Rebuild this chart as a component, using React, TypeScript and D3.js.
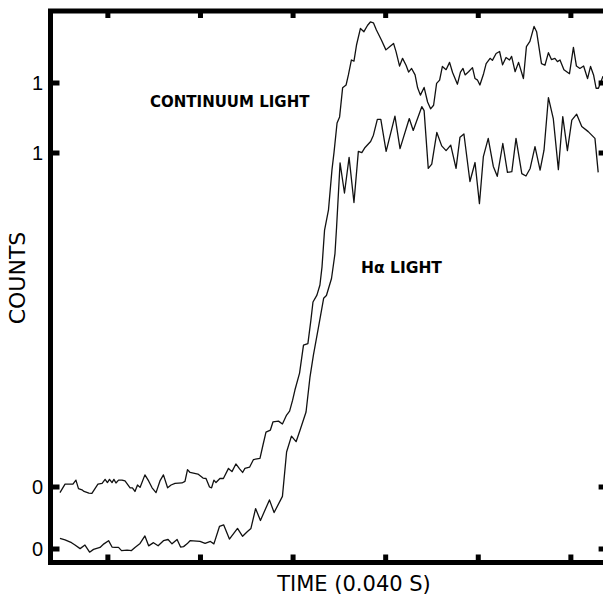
import React, { useEffect, useRef } from 'react';
import * as d3 from 'd3';

// time in ms (0.040 s between ticks), counts in % of the plateau level
const contTime = [4.3, 6.5, 9.9, 11.2, 12.3, 13.8, 14.7, 16.8, 18.1, 20.7, 22.5, 23.8, 24.8, 25.7, 26.8, 27.6, 28.5, 29.6, 31.1, 32.4, 34.6, 35.6, 36.7, 37.8, 38.9, 41.0, 42.6, 44.1, 45.8, 47.5, 49.0, 50.8, 52.3, 54.0, 57.0, 58.3, 59.4, 60.5, 63.9, 66.1, 67.4, 68.9, 69.8, 70.8, 71.7, 73.4, 74.9, 77.1, 78.6, 80.3, 81.9, 83.2, 84.2, 86.2, 87.9, 90.7, 92.0, 93.3, 95.2, 96.3, 98.7, 100.4, 102.2, 103.5, 104.8, 105.8, 107.8, 109.5, 111.4, 112.7, 113.6, 115.3, 116.6, 117.5, 118.6, 120.3, 121.8, 122.7, 124.0, 125.1, 126.4, 127.9, 128.9, 130.2, 131.3, 132.4, 134.1, 135.6, 137.2, 138.4, 139.7, 141.0, 143.2, 145.1, 146.7, 148.4, 149.5, 151.0, 152.3, 153.8, 154.9, 156.2, 157.7, 158.8, 160.0, 161.6, 163.1, 164.4, 165.7, 167.0, 168.3, 169.5, 171.1, 172.6, 173.9, 176.0, 177.3, 178.4, 179.3, 180.8, 182.5, 183.6, 184.7, 185.7, 187.3, 188.4, 190.1, 191.1, 192.7, 194.2, 195.5, 197.0, 198.5, 199.4, 200.9, 202.4, 204.5, 205.8, 207.3, 209.1, 210.2, 212.3, 213.8, 215.3, 216.6, 218.1, 219.2, 220.3, 222.0, 224.4, 226.1, 227.4, 228.9, 230.5, 232.2, 233.5, 234.8, 235.9, 236.9, 238.9];
const contCounts = [-1.4, 0.7, 0.7, 1.7, -0.4, -0.7, -1.1, -1.5, -1.6, 0.7, 0.9, 1.9, 1.1, 1.9, 1.1, 1.9, 1.0, 1.7, 1.7, 1.5, -0.2, -0.2, -1.1, 0.5, -0.1, 3.0, 1.5, -0.2, -1.4, 1.5, 3.0, -0.2, 0.5, 0.9, 1.0, 1.4, 4.3, 3.6, 3.2, 2.2, 2.1, 0.0, -0.2, 1.7, 1.1, 2.1, 2.1, 4.6, 3.8, 5.7, 4.5, 3.6, 4.6, 4.9, 6.8, 7.1, 10.4, 13.6, 14.1, 16.1, 16.3, 15.6, 17.8, 18.8, 21.5, 24.0, 28.2, 35.1, 35.5, 41.3, 45.8, 47.5, 50.0, 54.5, 63.6, 68.6, 78.5, 82.9, 90.1, 91.6, 98.8, 99.5, 102.0, 105.7, 105.4, 109.4, 113.5, 112.7, 114.3, 115.1, 114.9, 113.1, 110.6, 108.2, 109.0, 109.8, 107.7, 104.2, 106.1, 104.4, 102.7, 103.6, 102.0, 98.8, 97.0, 98.9, 95.3, 93.6, 94.5, 99.9, 100.7, 104.1, 103.3, 105.1, 102.6, 99.7, 102.7, 103.6, 102.0, 102.8, 103.8, 101.1, 100.7, 99.5, 102.3, 104.8, 106.1, 105.6, 107.3, 107.8, 104.5, 106.3, 105.7, 106.6, 102.8, 105.1, 101.1, 109.0, 110.3, 114.0, 112.7, 104.8, 104.4, 107.5, 105.8, 106.1, 105.3, 105.7, 103.3, 102.3, 108.8, 104.2, 103.6, 104.2, 101.1, 104.1, 102.0, 98.7, 98.7, 101.7];

const haTime = [4.3, 6.5, 9.3, 10.8, 13.0, 15.1, 17.1, 18.8, 21.6, 23.3, 25.3, 26.8, 28.1, 29.6, 30.9, 33.3, 35.2, 36.7, 38.9, 41.0, 42.6, 44.7, 46.7, 49.0, 51.0, 52.7, 54.9, 56.4, 57.7, 59.2, 60.5, 64.8, 67.0, 69.3, 70.8, 73.2, 75.0, 77.5, 81.0, 83.2, 85.3, 86.8, 88.8, 90.9, 94.8, 96.8, 100.4, 102.2, 104.3, 106.3, 108.0, 110.6, 112.3, 113.8, 116.0, 118.2, 119.4, 121.6, 123.1, 123.8, 125.3, 127.2, 129.2, 131.3, 133.2, 134.7, 136.1, 138.5, 139.7, 141.4, 142.9, 145.2, 149.0, 151.2, 155.2, 156.9, 160.6, 161.6, 163.4, 164.9, 167.1, 169.2, 171.1, 173.1, 175.4, 177.1, 178.8, 181.4, 183.6, 185.5, 187.2, 189.3, 191.5, 193.2, 195.6, 197.6, 199.5, 201.3, 203.8, 205.6, 207.4, 209.5, 211.7, 213.4, 215.3, 217.4, 219.6, 221.5, 223.5, 225.4, 227.5, 229.7, 232.5, 235.4, 236.8];
const haCounts = [2.7, 2.3, 1.6, 1.0, 0.1, 1.0, -0.8, -0.1, 0.4, 1.3, 2.1, 0.5, 0.4, 0.4, -0.4, -0.3, -0.4, 0.4, 1.4, 3.3, 0.8, 1.6, 0.8, 2.1, 2.4, 1.3, 2.4, 0.5, 0.6, 1.3, 2.1, 1.9, 1.4, 1.9, 1.3, 5.7, 6.1, 2.5, 5.2, 3.2, 4.4, 5.2, 10.2, 7.2, 12.4, 9.2, 13.3, 24.5, 28.5, 27.1, 30.0, 34.6, 43.4, 49.0, 56.1, 63.3, 64.0, 68.3, 74.6, 81.3, 97.5, 89.9, 98.9, 87.5, 100.4, 100.1, 101.4, 102.9, 104.5, 108.5, 108.5, 100.4, 109.3, 101.1, 108.7, 105.7, 111.7, 110.7, 96.1, 97.2, 105.2, 101.8, 100.6, 102.0, 96.1, 104.0, 104.8, 92.8, 97.6, 87.2, 99.1, 103.7, 96.6, 94.1, 102.4, 95.1, 95.3, 103.7, 94.8, 94.2, 96.1, 101.6, 95.7, 100.7, 114.0, 108.7, 95.8, 109.2, 100.6, 108.3, 109.8, 106.7, 105.4, 103.7, 95.1];

const timeTicks = [25, 65, 105, 145, 185, 225];
const countTicks = [0, 100];
const countTickLabels = ['0', '1'];

const Chart = () => {
  const svgRef = useRef(null);
  const width = 603;
  const height = 598;

  useEffect(() => {
    document.body.style.margin = '0';
    const svg = d3.select(svgRef.current);
    svg.selectAll('*').remove();

    const font = "'Liberation Sans', Arial, Helvetica, sans-serif";
    const labelFont = "'DejaVu Sans', Verdana, sans-serif";
    const frame = { left: 50.5, top: 11, bottom: 562.5 };

    const x = d3.scaleLinear().domain([0, 240]).range([50, 605.6]);
    // each trace has its own offset baseline
    const yCont = d3.scaleLinear().domain([0, 100]).range([487, 83]);
    const yHa = d3.scaleLinear().domain([0, 100]).range([549, 153]);
    const xRight = x(240) + 2;

    const cont = contTime.map((t, i) => [t, contCounts[i]]);
    const ha = haTime.map((t, i) => [t, haCounts[i]]);

    const lineCont = d3.line().x((d) => x(d[0])).y((d) => yCont(d[1]));
    const lineHa = d3.line().x((d) => x(d[0])).y((d) => yHa(d[1]));

    svg
      .append('path')
      .attr('d', lineCont(cont))
      .attr('fill', 'none')
      .attr('stroke', '#111')
      .attr('stroke-width', 1.3)
      .attr('stroke-linejoin', 'round');

    svg
      .append('path')
      .attr('d', lineHa(ha))
      .attr('fill', 'none')
      .attr('stroke', '#111')
      .attr('stroke-width', 1.3)
      .attr('stroke-linejoin', 'round');

    // frame
    svg
      .append('rect')
      .attr('x', frame.left)
      .attr('y', frame.top)
      .attr('width', xRight - frame.left)
      .attr('height', frame.bottom - frame.top)
      .attr('fill', 'none')
      .attr('stroke', '#000')
      .attr('stroke-width', 5);

    // time ticks, top and bottom, pointing inward
    timeTicks.forEach((t) => {
      svg
        .append('rect')
        .attr('x', x(t) - 2.5)
        .attr('y', frame.bottom - 8)
        .attr('width', 5)
        .attr('height', 8)
        .attr('fill', '#000');
      svg
        .append('rect')
        .attr('x', x(t) - 2.5)
        .attr('y', frame.top)
        .attr('width', 5)
        .attr('height', 7)
        .attr('fill', '#000');
    });

    // count ticks on both baselines
    const yTicks = [
      ...countTicks.map((v, i) => ({ y: yCont(v), label: countTickLabels[i] })),
      ...countTicks.map((v, i) => ({ y: yHa(v), label: countTickLabels[i] })),
    ];
    yTicks.forEach((d) => {
      svg
        .append('rect')
        .attr('x', frame.left)
        .attr('y', d.y - 2.5)
        .attr('width', 9)
        .attr('height', 5)
        .attr('fill', '#000');
      svg
        .append('rect')
        .attr('x', xRight - 9)
        .attr('y', d.y - 2.5)
        .attr('width', 9)
        .attr('height', 5)
        .attr('fill', '#000');
      svg
        .append('text')
        .attr('x', 43)
        .attr('y', d.y)
        .attr('dy', '0.36em')
        .attr('text-anchor', 'end')
        .style('font-family', font)
        .style('font-size', '20px')
        .style('fill', '#000')
        .text(d.label);
    });

    // labels
    svg
      .append('text')
      .attr('x', 150)
      .attr('y', 107)
      .style('font-family', labelFont)
      .style('font-size', '15px')
      .style('font-weight', 'bold')
      .text('CONTINUUM LIGHT');

    svg
      .append('text')
      .attr('x', 361)
      .attr('y', 273)
      .style('font-family', labelFont)
      .style('font-size', '15.5px')
      .style('font-weight', 'bold')
      .text('Hα LIGHT');

    svg
      .append('text')
      .attr('x', 354)
      .attr('y', 591)
      .attr('text-anchor', 'middle')
      .style('font-family', labelFont)
      .style('font-size', '21px')
      .text('TIME (0.040 S)');

    svg
      .append('text')
      .attr('transform', 'translate(25, 278) rotate(-90)')
      .attr('text-anchor', 'middle')
      .style('font-family', labelFont)
      .style('font-size', '22px')
      .text('COUNTS');
  }, []);

  return <svg ref={svgRef} width={width} height={height} style={{ display: 'block', background: '#fff' }} />;
};

export default function App() {
  return <Chart />;
}
